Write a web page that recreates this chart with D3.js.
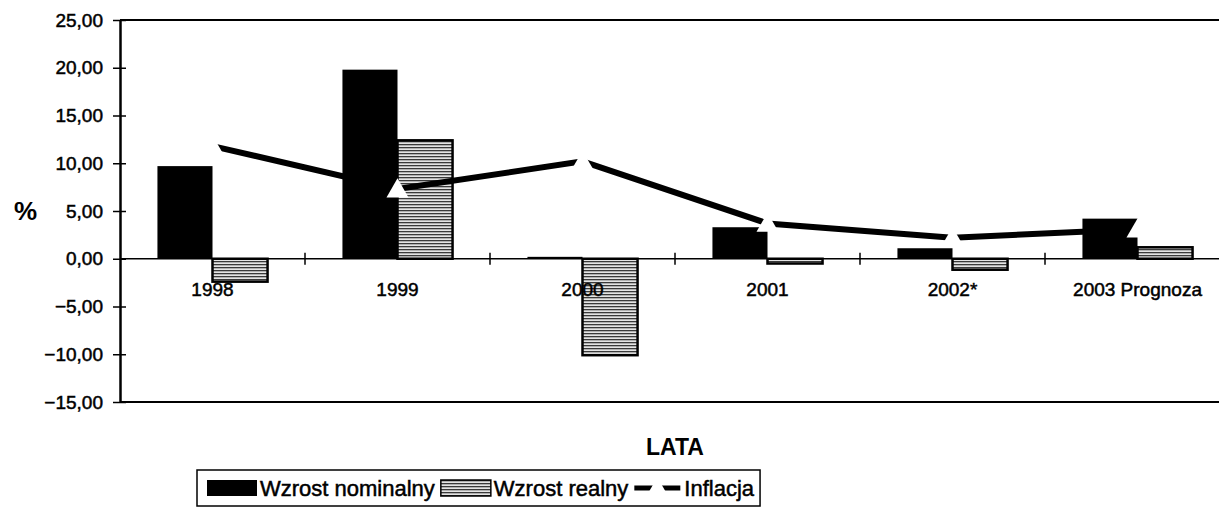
<!DOCTYPE html>
<html lang="pl">
<head>
<meta charset="UTF-8">
<script src="https://cdn.jsdelivr.net/npm/d3@7"></script>
<title>Wzrost nominalny i realny</title>
<style>
body { margin: 0; background: #fff; }
text { font-family: "Liberation Sans", Arial, sans-serif; fill: #000; }
.gruby { stroke: #000; stroke-width: 0.5px; }
</style>
</head>
<body>
<svg id="vis" width="1219" height="522"></svg>
<script>
// dane
var lata = ["1998", "1999", "2000", "2001", "2002*", "2003 Prognoza"];
var wzrostNominalny = [9.7, 19.8, 0.2, 3.3, 1.1, 4.2];
var wzrostRealny = [-2.4, 12.4, -10.1, -0.5, -1.15, 1.2];
var inflacja = [11.8, 7.3, 10.2, 3.7, 2.2, 3.1];
var yTicks = [-15, -10, -5, 0, 5, 10, 15, 20, 25];
var nazwySerii = ["Wzrost nominalny", "Wzrost realny", "Inflacja"];

var svg = d3.select("#vis");

// wzór paskowany dla wzrostu realnego
var defs = svg.append("defs");
var pat = defs.append("pattern")
  .attr("id", "paski")
  .attr("patternUnits", "userSpaceOnUse")
  .attr("width", 8).attr("height", 3);
pat.append("rect").attr("width", 8).attr("height", 3).attr("fill", "#e4e4e4");
pat.append("rect").attr("width", 8).attr("height", 1.3).attr("fill", "#3a3a3a");

// skale
var scaleX = d3.scaleBand().domain(lata).range([120, 1230]);
var scaleSub = d3.scaleBand().domain(["nom", "real"]).range([0, scaleX.bandwidth()]).paddingOuter(0.68);
var scaleY = d3.scaleLinear().domain([-15, 25]).range([402, 20]);

function fmt(v) { return d3.format(".2f")(v).replace(".", ","); }

// ramka górna i dolna
svg.append("line").attr("x1", 120).attr("x2", 1219)
  .attr("y1", scaleY(25)).attr("y2", scaleY(25))
  .attr("stroke", "#000").attr("stroke-width", 2);
svg.append("line").attr("x1", 120).attr("x2", 1219)
  .attr("y1", scaleY(-15)).attr("y2", scaleY(-15))
  .attr("stroke", "#000").attr("stroke-width", 2);

// oś Y
var yAxis = d3.axisLeft(scaleY).tickValues(yTicks).tickFormat(fmt)
  .tickSizeInner(7).tickSizeOuter(0).tickPadding(10);
var gy = svg.append("g").attr("transform", "translate(120,0)").call(yAxis);
gy.select(".domain").attr("stroke-width", 2.5);
gy.selectAll(".tick line").attr("x2", -7).attr("x1", 6).attr("stroke-width", 1.5);
gy.selectAll(".tick text").attr("font-size", 19).attr("class", "gruby")
  .attr("font-family", "Liberation Sans, Arial, sans-serif");

// słupki
var gBarres = svg.append("g");
lata.forEach(function (rok, i) {
  var v = wzrostNominalny[i];
  gBarres.append("rect")
    .attr("x", scaleX(rok) + scaleSub("nom"))
    .attr("width", scaleSub.bandwidth())
    .attr("y", scaleY(Math.max(v, 0)))
    .attr("height", Math.abs(scaleY(v) - scaleY(0)))
    .attr("fill", "#000");
  var r = wzrostRealny[i];
  gBarres.append("rect")
    .attr("x", scaleX(rok) + scaleSub("real"))
    .attr("width", scaleSub.bandwidth())
    .attr("y", scaleY(Math.max(r, 0)))
    .attr("height", Math.abs(scaleY(r) - scaleY(0)))
    .attr("fill", "url(#paski)")
    .attr("stroke", "#000").attr("stroke-width", 2.5);
});

// oś X (linia zera) z etykietami
var xAxis = d3.axisBottom(scaleX).tickSize(0).tickPadding(24);
var gx = svg.append("g").attr("transform", "translate(0," + scaleY(0) + ")").call(xAxis);
gx.select(".domain").attr("d", "M120,0H1219").attr("stroke-width", 1.5);
gx.selectAll(".tick text").attr("font-size", 19).attr("class", "gruby")
  .attr("font-family", "Liberation Sans, Arial, sans-serif");
// kreski między kategoriami
lata.slice(1).forEach(function (rok) {
  gx.append("line").attr("x1", scaleX(rok)).attr("x2", scaleX(rok))
    .attr("y1", -6).attr("y2", 6).attr("stroke", "#000").attr("stroke-width", 1.5);
});

// linia inflacji
var linia = d3.line()
  .x(function (d, i) { return scaleX(lata[i]) + scaleX.bandwidth() / 2; })
  .y(function (d) { return scaleY(d); });
svg.append("path").datum(inflacja)
  .attr("d", linia)
  .attr("fill", "none").attr("stroke", "#000").attr("stroke-width", 6);
var tri = d3.symbol().type(d3.symbolTriangle).size(210);
svg.selectAll(".znacznik").data(inflacja).enter().append("path")
  .attr("class", "znacznik")
  .attr("d", tri)
  .attr("transform", function (d, i) {
    return "translate(" + (scaleX(lata[i]) + scaleX.bandwidth() / 2) + "," + (scaleY(d) + 2) + ")";
  })
  .attr("fill", "#fff");

// tytuły osi
svg.append("text").attr("x", 14).attr("y", scaleY(5) + 9)
  .attr("font-size", 26).attr("font-weight", "bold").text("%");
svg.append("text").attr("x", 675).attr("y", 455).attr("text-anchor", "middle")
  .attr("font-size", 23).attr("font-weight", "bold").text("LATA");

// legenda
var leg = svg.append("g");
var lx = 197, ly = 470, lh = 36, fs = 22;
var box = leg.append("rect").attr("x", lx).attr("y", ly).attr("height", lh)
  .attr("fill", "#fff").attr("stroke", "#000").attr("stroke-width", 1.5);
var cx = lx + 10;
var cy = ly + lh / 2;
// wpis 1
leg.append("rect").attr("x", cx).attr("y", cy - 8).attr("width", 50).attr("height", 16).attr("fill", "#000");
cx += 53;
var t1 = leg.append("text").attr("x", cx).attr("y", cy + 8).attr("font-size", fs)
  .attr("class", "gruby").text(nazwySerii[0]);
cx += t1.node().getComputedTextLength() + 6;
// wpis 2
leg.append("rect").attr("x", cx).attr("y", cy - 8).attr("width", 50).attr("height", 16)
  .attr("fill", "url(#paski)").attr("stroke", "#000").attr("stroke-width", 1.5);
cx += 53;
var t2 = leg.append("text").attr("x", cx).attr("y", cy + 8).attr("font-size", fs)
  .attr("class", "gruby").text(nazwySerii[1]);
cx += t2.node().getComputedTextLength() + 6;
// wpis 3
leg.append("line").attr("x1", cx).attr("x2", cx + 46).attr("y1", cy).attr("y2", cy)
  .attr("stroke", "#000").attr("stroke-width", 5);
leg.append("path").attr("d", tri).attr("fill", "#fff")
  .attr("transform", "translate(" + (cx + 23) + "," + (cy + 2) + ")");
cx += 50;
var t3 = leg.append("text").attr("x", cx).attr("y", cy + 8).attr("font-size", fs)
  .attr("class", "gruby").text(nazwySerii[2]);
cx += t3.node().getComputedTextLength() + 6;
box.attr("width", cx - lx);
</script>
</body>
</html>
